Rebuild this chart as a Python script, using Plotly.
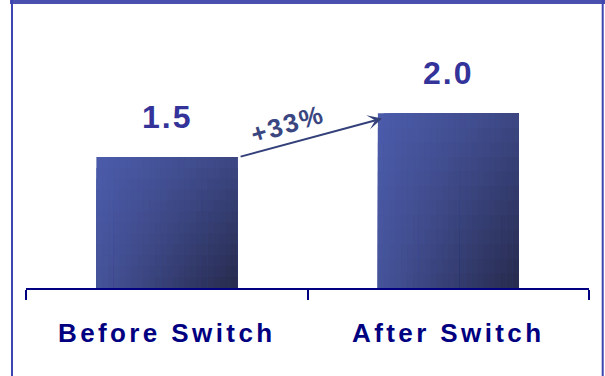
import plotly.graph_objects as go

categories = ["Before Switch", "After Switch"]
values = [1.5, 2.0]

# colours for the bar shading (light top-left -> dark bottom-right)
LIGHT = (76, 92, 171)
DARK = (38, 42, 76)

W, H = 605, 376
ML, MR, MT, MB = 26, 16, 26, 88
PW, PH = W - ML - MR, H - MT - MB


def px2paper_x(px):
    return (px - ML) / PW


def px2paper_y(py):
    return (H - MB - py) / PH


def shade(tx, ty):
    d = 0.42 * tx + 0.18 * ty + 0.40 * tx * ty
    r, g, b = (round(LIGHT[k] + (DARK[k] - LIGHT[k]) * d) for k in range(3))
    return f"rgb({r},{g},{b})"


fig = go.Figure()
NX, NY = 24, 12
BW = 0.5
# overlapping layers: each later layer covers the remaining right / lower part,
# so the visible pieces tile the bar without seams
for i in range(NX):
    for j in range(NY):
        tx = (i + 0.5) / NX
        ty = (j + 0.5) / NY
        frac_top = 1 - j / NY
        fig.add_trace(go.Bar(
            x=categories,
            y=[v * frac_top for v in values],
            width=BW * (1 - i / NX),
            offset=-BW / 2 + i * BW / NX,
            marker=dict(color=shade(tx, ty), line=dict(width=0)),
            hoverinfo="skip",
            showlegend=False,
        ))

FONT = "Liberation Sans, Arial, Helvetica, sans-serif"

annotations = []
for c, v in zip(categories, values):
    annotations.append(dict(
        x=c, y=v, xref="x", yref="y", text=f"{v:.1f}", showarrow=False,
        yanchor="bottom", yshift=20,
        font=dict(family=FONT, size=32, color="#333399", weight=700),
    ))

pct = (values[1] / values[0] - 1) * 100
annotations.append(dict(
    x=0.43, y=(values[0] + values[1]) / 2 + 0.13, xref="x", yref="y",
    text=f"+{pct:.0f}%", showarrow=False, textangle=-17,
    font=dict(family=FONT, size=26, color="#3a4680", weight=700),
))
annotations.append(dict(
    x=0.765, y=values[1] * 0.97, ax=0.257, ay=values[0],
    xref="x", yref="y", axref="x", ayref="y",
    text="", showarrow=True, arrowhead=3, arrowsize=1.2, arrowwidth=2,
    arrowcolor="#34407a", standoff=0, startstandoff=0,
))

FRAME = "#3d45b0"
shapes = [
    dict(type="rect", xref="paper", yref="paper",
         x0=px2paper_x(10), x1=px2paper_x(605), y0=px2paper_y(4), y1=px2paper_y(-2),
         fillcolor="#4a50ad", line=dict(width=0), layer="above"),
    dict(type="line", xref="paper", yref="paper",
         x0=px2paper_x(12), x1=px2paper_x(12), y0=px2paper_y(0), y1=px2paper_y(380),
         line=dict(color=FRAME, width=2)),
    dict(type="line", xref="paper", yref="paper",
         x0=px2paper_x(602.7), x1=px2paper_x(602.7), y0=px2paper_y(0), y1=px2paper_y(380),
         line=dict(color=FRAME, width=2)),
]

fig.update_layout(
    width=W, height=H,
    margin=dict(l=ML, r=MR, t=MT, b=MB, pad=0),
    paper_bgcolor="white", plot_bgcolor="white",
    barmode="overlay",
    showlegend=False,
    annotations=annotations,
    shapes=shapes,
    xaxis=dict(
        type="category", range=[-0.5, 1.5],
        showline=True, linecolor="#000080", linewidth=2,
        ticks="outside", tickson="boundaries", ticklen=10, tickwidth=2, tickcolor="#000080",
        showgrid=False, zeroline=False,
        tickfont=dict(family=FONT, size=26, color="#000080", weight=700),
        ticklabelstandoff=21,
        fixedrange=True,
    ),
    yaxis=dict(range=[0, 3.0], visible=False, fixedrange=True),
)

post = """
document.body.style.margin = '0';
document.body.style.padding = '0';
var gd = document.getElementById('{plot_id}');
gd.querySelectorAll('.xtick text').forEach(function(t){ t.style.letterSpacing = '3.4px'; });
gd.querySelectorAll('.annotation-text').forEach(function(t){ t.style.letterSpacing = '2px'; });
"""

fig.write_html("out.html", config={"displayModeBar": False}, post_script=post)
